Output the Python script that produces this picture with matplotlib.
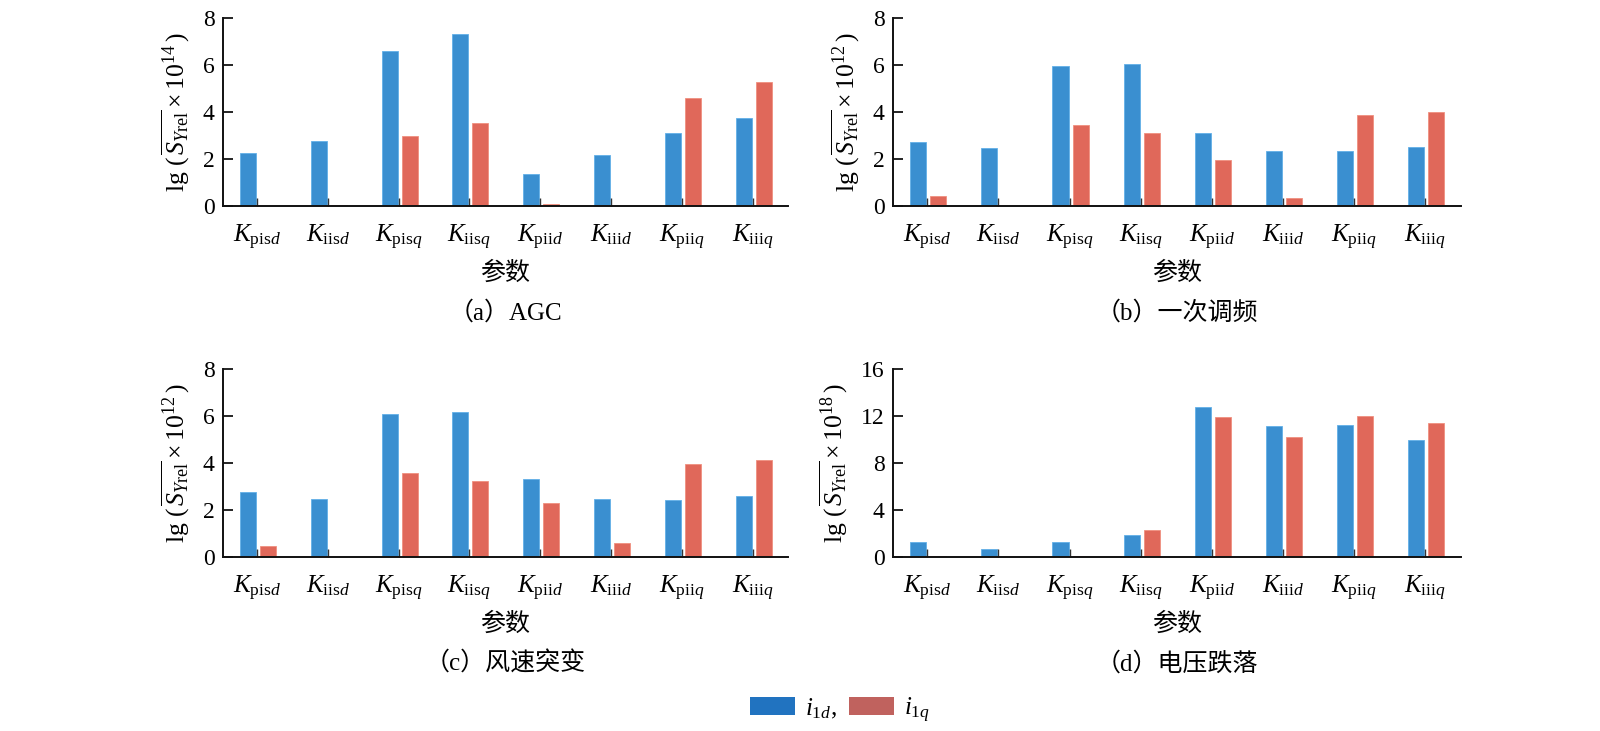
import numpy as np
import matplotlib
matplotlib.use("Agg")
import matplotlib.pyplot as plt
from matplotlib.patches import Patch

plt.rcParams['font.family'] = ['Liberation Serif', 'Noto Sans CJK SC', 'DejaVu Sans']
plt.rcParams['mathtext.fontset'] = 'custom'
plt.rcParams['mathtext.rm'] = 'Liberation Serif'
plt.rcParams['mathtext.it'] = 'Liberation Serif:italic'
plt.rcParams['mathtext.bf'] = 'Liberation Serif:bold'

params = [r'$K_{\mathrm{pis}d}$', r'$K_{\mathrm{iis}d}$', r'$K_{\mathrm{pis}q}$', r'$K_{\mathrm{iis}q}$',
          r'$K_{\mathrm{pii}d}$', r'$K_{\mathrm{iii}d}$', r'$K_{\mathrm{pii}q}$', r'$K_{\mathrm{iii}q}$']

agc_id = [2.27, 2.77, 6.58, 7.30, 1.38, 2.17, 3.12, 3.76]
agc_iq = [0.0, 0.04, 2.98, 3.54, 0.10, 0.0, 4.59, 5.26]

pfr_id = [2.73, 2.46, 5.95, 6.05, 3.10, 2.34, 2.36, 2.50]
pfr_iq = [0.43, 0.0, 3.45, 3.11, 1.96, 0.36, 3.88, 4.01]

wind_id = [2.75, 2.48, 6.09, 6.18, 3.32, 2.47, 2.43, 2.60]
wind_iq = [0.45, 0.0, 3.57, 3.23, 2.28, 0.58, 3.97, 4.14]

volt_id = [1.28, 0.68, 1.28, 1.90, 12.78, 11.16, 11.22, 9.94]
volt_iq = [0.05, 0.0, 0.05, 2.27, 11.90, 10.20, 12.02, 11.42]

exps = [14, 12, 12, 18]
titles = ['（a）AGC', '（b）一次调频', '（c）风速突变', '（d）电压跌落']
yticks_list = [[0, 2, 4, 6, 8], [0, 2, 4, 6, 8], [0, 2, 4, 6, 8], [0, 4, 8, 12, 16]]
data = [(agc_id, agc_iq), (pfr_id, pfr_iq), (wind_id, wind_iq), (volt_id, volt_iq)]

W, H = 1600, 731
fig = plt.figure(figsize=(16, 7.31), dpi=100)

blue = '#3a8fd0'
red = '#e0685a'

boxes = [(223, 18, 788, 206), (893, 18, 1461, 206), (223, 369, 788, 557), (893, 369, 1461, 557)]

for i, (box, (d1, d2)) in enumerate(zip(boxes, data)):
    x0, y0, x1, y1 = box
    ax = fig.add_axes([x0 / W, 1 - y1 / H, (x1 - x0) / W, (y1 - y0) / H])
    x = np.arange(len(params))
    ax.bar(x - 0.127, d1, width=0.226, color=blue, edgecolor='#62b0e8', linewidth=0.6)
    ax.bar(x + 0.155, d2, width=0.226, color=red, edgecolor='#f0907f', linewidth=0.6)
    yt = yticks_list[i]
    ax.set_ylim(0, yt[-1])
    ax.set_xlim(-0.48, 7.5)
    ax.set_yticks(yt)
    ax.set_yticklabels([str(v) for v in yt], fontsize=17)
    ax.set_xticks(x)
    ax.set_xticklabels(params, fontsize=18)
    for s in ['top', 'right']:
        ax.spines[s].set_visible(False)
    for s in ['left', 'bottom']:
        ax.spines[s].set_linewidth(1.4)
        ax.spines[s].set_color('#111111')
    ax.tick_params(axis='y', direction='in', length=7, width=1.2, pad=6)
    ax.tick_params(axis='x', direction='in', length=6, width=1.0, pad=12, color='#333333')
    ax.set_ylabel(r'$\mathrm{lg}\ (\,\overline{S_{Y\mathrm{rel}}}\times10^{%d}\,)$' % exps[i],
                  fontsize=18.5, labelpad=8)
    cx = (x0 + x1) / 2
    fig.text(cx / W, 1 - (y1 + 67) / H, '参数', fontsize=18, ha='center', va='center',
             family=['Noto Sans CJK SC', 'DejaVu Sans'])
    fig.text(cx / W, 1 - (y1 + 107) / H, titles[i], fontsize=18, ha='center', va='center',
             family=['Liberation Serif', 'Noto Sans CJK SC'])

handles = [Patch(facecolor='#2173c0'), Patch(facecolor='#c0625e')]
fig.legend(handles, [r'$i_{1d}$,', r'$i_{1q}$'], loc='center', bbox_to_anchor=(840 / W, 1 - 710 / H),
           ncol=2, frameon=False, fontsize=18, handlelength=1.8, handleheight=0.75,
           columnspacing=0.5, handletextpad=0.4)

fig.savefig('out.png', dpi=100)
